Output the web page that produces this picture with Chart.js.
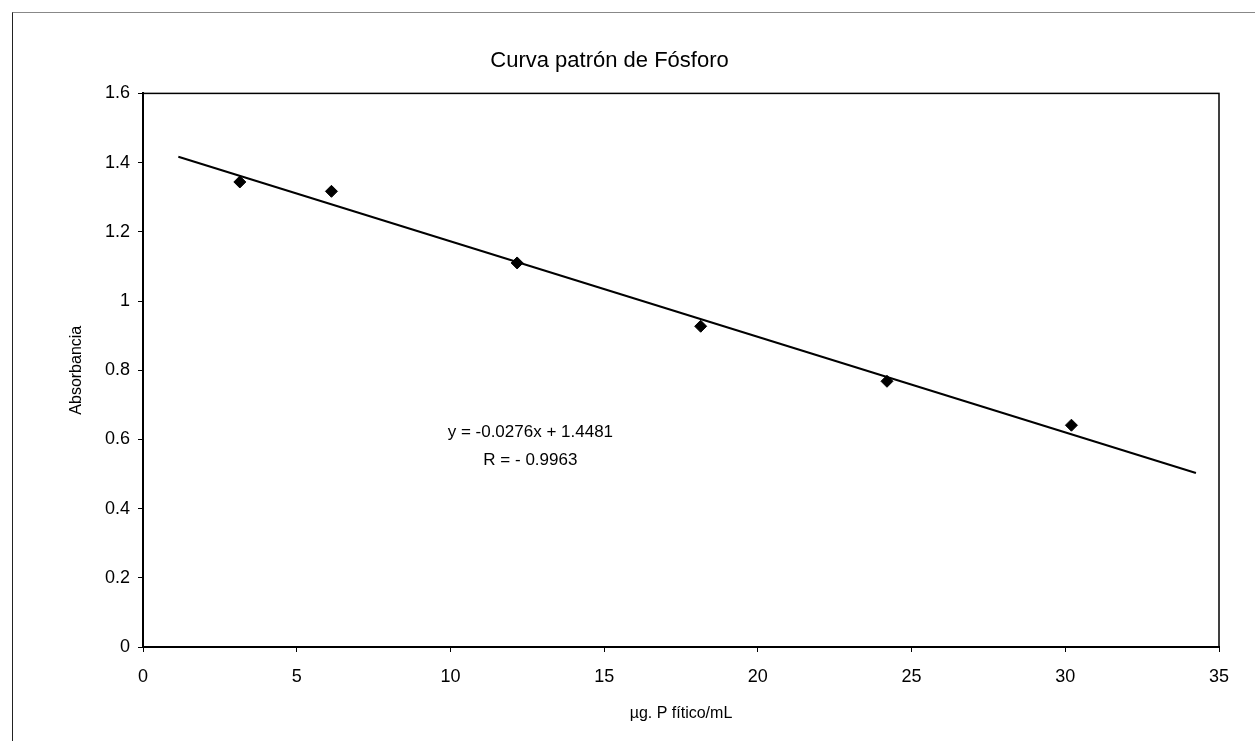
<!DOCTYPE html>
<html>
<head>
<meta charset="utf-8">
<title>Curva patrón de Fósforo</title>
<script src="https://cdn.jsdelivr.net/npm/chart.js@4.4.0/dist/chart.umd.min.js"></script>
<style>
  html, body { margin: 0; padding: 0; background: #fff; overflow: hidden; }
  #marco { position: absolute; left: 12px; top: 12px; width: 1300px; height: 800px;
           border-left: 1px solid #222; border-top: 1px solid #888; }
  #contenedor { position: absolute; left: 0; top: 0; width: 1255px; height: 741px; }
</style>
</head>
<body>
<div id="marco"></div>
<div id="contenedor"><canvas id="curvaChart"></canvas></div>
<script>
// datos
const concentracion = [3.15, 6.13, 12.17, 18.14, 24.2, 30.2];
const absorbancia = [1.344, 1.317, 1.11, 0.927, 0.768, 0.641];
// extremos de la línea de tendencia
const tendenciaX = [1.15, 34.25];
const tendenciaY = [1.417, 0.503];
const ticksX = [0, 5, 10, 15, 20, 25, 30, 35];
const ticksY = [0, 0.2, 0.4, 0.6, 0.8, 1, 1.2, 1.4, 1.6];
const etiquetasY = ['0', '0.2', '0.4', '0.6', '0.8', '1', '1.2', '1.4', '1.6'];
const ecuacion = ['y = -0.0276x + 1.4481', 'R = - 0.9963'];
const posEcuacion = { x: 12.6, y: [0.62, 0.54] };

const fuente = "'Liberation Sans', Arial, sans-serif";

const marcoPlot = {
    id: 'marcoPlot',
    afterDraw(chart) {
        const { ctx, chartArea: a } = chart;
        ctx.save();
        ctx.strokeStyle = '#000';
        ctx.lineWidth = 1.5;
        ctx.strokeRect(a.left, a.top, a.right - a.left, a.bottom - a.top);
        ctx.restore();
    }
};

const textoEcuacion = {
    id: 'textoEcuacion',
    afterDatasetsDraw(chart) {
        const { ctx, scales } = chart;
        ctx.save();
        ctx.fillStyle = '#000';
        ctx.font = '17px ' + fuente;
        ctx.textAlign = 'center';
        ctx.textBaseline = 'middle';
        const px = scales.x.getPixelForValue(posEcuacion.x);
        ecuacion.forEach((linea, i) => {
            ctx.fillText(linea, px, scales.y.getPixelForValue(posEcuacion.y[i]));
        });
        ctx.restore();
    }
};

const ctx = document.getElementById('curvaChart').getContext('2d');
new Chart(ctx, {
    type: 'scatter',
    data: {
        datasets: [
            {
                label: 'Tendencia',
                data: tendenciaX.map((x, i) => ({ x: x, y: tendenciaY[i] })),
                showLine: true,
                borderColor: '#000',
                borderWidth: 2,
                pointRadius: 0,
                fill: false
            },
            {
                label: 'Absorbancia',
                data: concentracion.map((x, i) => ({ x: x, y: absorbancia[i] })),
                pointStyle: 'rectRot',
                pointRadius: 6,
                backgroundColor: '#000',
                borderColor: '#000',
                borderWidth: 1
            }
        ]
    },
    options: {
        responsive: true,
        maintainAspectRatio: false,
        animation: false,
        layout: { padding: { left: 0, right: 36, top: 0, bottom: 0 } },
        plugins: {
            legend: { display: false },
            tooltip: { enabled: false },
            title: {
                display: true,
                text: 'Curva patrón de Fósforo',
                color: '#000',
                font: { family: fuente, size: 22, weight: 'normal' },
                padding: { top: 48, bottom: 19 }
            }
        },
        scales: {
            x: {
                type: 'linear',
                min: 0,
                max: 35,
                afterBuildTicks: s => { s.ticks = ticksX.map(v => ({ value: v })); },
                afterFit: s => { s.height = 94; },
                grid: { display: true, drawOnChartArea: false, drawTicks: true, tickLength: 5, color: '#000' },
                border: { display: true, color: '#000', width: 2 },
                ticks: { color: '#000', padding: 14, font: { family: fuente, size: 18 } },
                title: {
                    display: true,
                    text: 'µg. P fítico/mL',
                    color: '#000',
                    font: { family: fuente, size: 16 },
                    padding: { top: 0, bottom: 18 }
                }
            },
            y: {
                type: 'linear',
                min: 0,
                max: 1.6,
                afterBuildTicks: s => { s.ticks = ticksY.map(v => ({ value: v })); },
                afterFit: s => { s.width = 143; },
                grid: { display: true, drawOnChartArea: false, drawTicks: true, tickLength: 5, color: '#000' },
                border: { display: true, color: '#000', width: 2 },
                ticks: {
                    color: '#000',
                    padding: 8,
                    font: { family: fuente, size: 18 },
                    callback: (v, i) => etiquetasY[i]
                },
                title: {
                    display: true,
                    text: 'Absorbancia',
                    color: '#000',
                    font: { family: fuente, size: 16 },
                    padding: { top: 67, bottom: 0 }
                }
            }
        }
    },
    plugins: [marcoPlot, textoEcuacion]
});
</script>
</body>
</html>
